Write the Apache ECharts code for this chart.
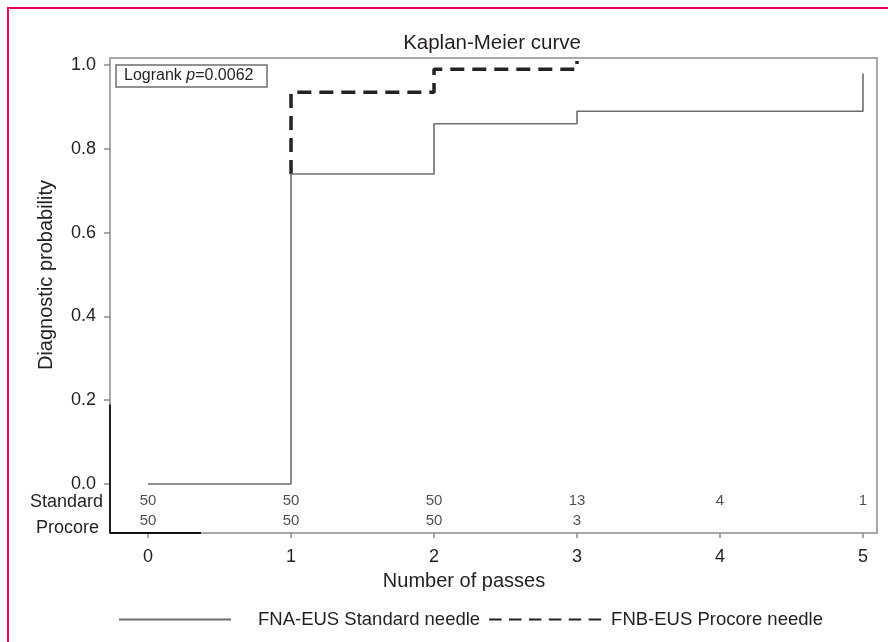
<!DOCTYPE html>
<html>
<head>
<meta charset="utf-8">
<script src="https://cdn.jsdelivr.net/npm/echarts@6/dist/echarts.min.js"></script>
<style>
  body { margin: 0; background: #fff; }
  #frame { position: absolute; left: 7px; top: 7px; width: 900px; height: 660px;
           border-left: 2px solid #e2076d; border-top: 2px solid #e2076d; }
  #chart { position: absolute; left: 0; top: 0; width: 888px; height: 642px; }
</style>
</head>
<body>
<div id="frame"></div>
<div id="chart"></div>
<script>
// number of passes (x ticks)
var passes = [0, 1, 2, 3, 4, 5];
var probTicks = [0, 0.2, 0.4, 0.6, 0.8, 1.0];

// Kaplan-Meier steps
var standardTimes = [0, 1, 2, 3, 5];
var standardProb = [0, 0.74, 0.86, 0.89, 0.98];
var procoreTimes = [1, 1, 2, 3];
var procoreProb = [0.74, 0.935, 0.99, 1.01];

// numbers at risk
var standardAtRisk = [50, 50, 50, 13, 4, 1];
var procoreAtRisk = [50, 50, 50, 3];
var riskRows = ['Standard', 'Procore'];

var FONT = 'Liberation Sans, Arial, sans-serif';
var TXT = '#231f20';

function pairs(xs, ys) {
    return xs.map(function (x, i) { return [x, ys[i]]; });
}
function riskData(counts, yPos) {
    return counts.map(function (c, i) { return { value: [passes[i], yPos], n: c }; });
}

var xMin = -0.266, xMax = 5.098;
var yMin = -0.117, yMax = 1.017;

var option = {
    animation: false,
    textStyle: { fontFamily: FONT, color: TXT },
    title: {
        text: 'Kaplan-Meier curve',
        left: 487,
        top: 28,
        textAlign: 'center',
        textStyle: { fontFamily: FONT, fontSize: 20.5, fontWeight: 'normal', color: TXT }
    },
    grid: {
        left: 110, right: 11, top: 58, bottom: 109,
        show: true,
        borderColor: '#8c8c8c',
        borderWidth: 1.5
    },
    legend: {
        left: 113,
        top: 605,
        itemWidth: 112,
        itemHeight: 14,
        itemGap: 8,
        itemStyle: { opacity: 0 },
        data: [
            { name: 'FNA-EUS Standard needle', icon: 'inherit', textStyle: { padding: [0, 0, 0, 22] } },
            { name: 'FNB-EUS Procore needle', icon: 'inherit', lineStyle: { type: [12.5, 7.4] },
              textStyle: { padding: [0, 0, 0, 5] } }
        ],
        textStyle: { fontFamily: FONT, fontSize: 18.5, color: TXT }
    },
    xAxis: {
        type: 'value',
        min: xMin, max: xMax,
        axisLine: { show: false, onZero: false },
        splitLine: { show: false },
        axisTick: { show: true, length: 5, customValues: passes, lineStyle: { color: '#8c8c8c', width: 1.5 } },
        axisLabel: { customValues: passes, margin: 15, fontSize: 18, color: TXT, fontFamily: FONT }
    },
    yAxis: {
        type: 'value',
        min: yMin, max: yMax,
        axisLine: { show: false, onZero: false },
        splitLine: { show: false },
        axisTick: { show: true, length: 6, customValues: probTicks, lineStyle: { color: '#8c8c8c', width: 1.5 } },
        axisLabel: {
            customValues: probTicks, margin: 14, fontSize: 18, color: TXT, fontFamily: FONT,
            formatter: function (v) { return v.toFixed(1); }
        }
    },
    graphic: [
        {
            type: 'text', x: 46, y: 275, rotation: Math.PI / 2,
            style: { text: 'Diagnostic probability', font: '20px ' + FONT, fill: TXT, align: 'center', verticalAlign: 'middle' }
        },
        {
            type: 'text', x: 464, y: 581,
            style: { text: 'Number of passes', font: '20px ' + FONT, fill: TXT, align: 'center', verticalAlign: 'middle' }
        },
        {
            type: 'text', x: 103, y: 502,
            style: { text: riskRows[0], font: '18px ' + FONT, fill: TXT, align: 'right', verticalAlign: 'middle' }
        },
        {
            type: 'text', x: 99, y: 528,
            style: { text: riskRows[1], font: '18px ' + FONT, fill: TXT, align: 'right', verticalAlign: 'middle' }
        },
        {
            type: 'group', x: 116, y: 65,
            children: [
                { type: 'rect', shape: { x: 0, y: 0, width: 151, height: 22 }, style: { fill: '#fff', stroke: '#6d6d6d', lineWidth: 1.5 } },
                {
                    type: 'text', x: 8, y: 11,
                    style: {
                        text: '{n|Logrank }{i|p}{n|=0.0062}',
                        verticalAlign: 'middle',
                        rich: {
                            n: { font: '16px ' + FONT, fill: TXT },
                            i: { font: 'italic 16px ' + FONT, fill: TXT }
                        }
                    }
                }
            ]
        }
    ],
    series: [
        {
            name: 'FNA-EUS Standard needle',
            type: 'line',
            step: 'end',
            symbol: 'none',
            data: pairs(standardTimes, standardProb),
            lineStyle: { color: '#6e6e6e', width: 1.6 },
            itemStyle: { color: '#6e6e6e' },
            z: 3
        },
        {
            name: 'FNB-EUS Procore needle',
            type: 'line',
            step: 'end',
            symbol: 'none',
            data: pairs(procoreTimes, procoreProb),
            lineStyle: { color: '#222', width: 3.5, type: [14, 8] },
            itemStyle: { color: '#222' },
            z: 2
        },
        {
            name: 'edge',
            type: 'line',
            symbol: 'none',
            silent: true,
            clip: false,
            data: [[xMin, 0.19], [xMin, yMin], [0.37, yMin]],
            lineStyle: { color: '#111', width: 1.8 },
            z: 4
        },
        {
            name: 'risk-standard',
            type: 'scatter',
            symbolSize: 0,
            silent: true,
            data: riskData(standardAtRisk, -0.04),
            label: { show: true, position: 'inside', fontSize: 15, color: TXT, fontFamily: FONT,
                     formatter: function (p) { return p.data.n; } }
        },
        {
            name: 'risk-procore',
            type: 'scatter',
            symbolSize: 0,
            silent: true,
            data: riskData(procoreAtRisk, -0.088),
            label: { show: true, position: 'inside', fontSize: 15, color: TXT, fontFamily: FONT,
                     formatter: function (p) { return p.data.n; } }
        }
    ]
};

var chart = echarts.init(document.getElementById('chart'));
chart.setOption(option);
</script>
</body>
</html>
